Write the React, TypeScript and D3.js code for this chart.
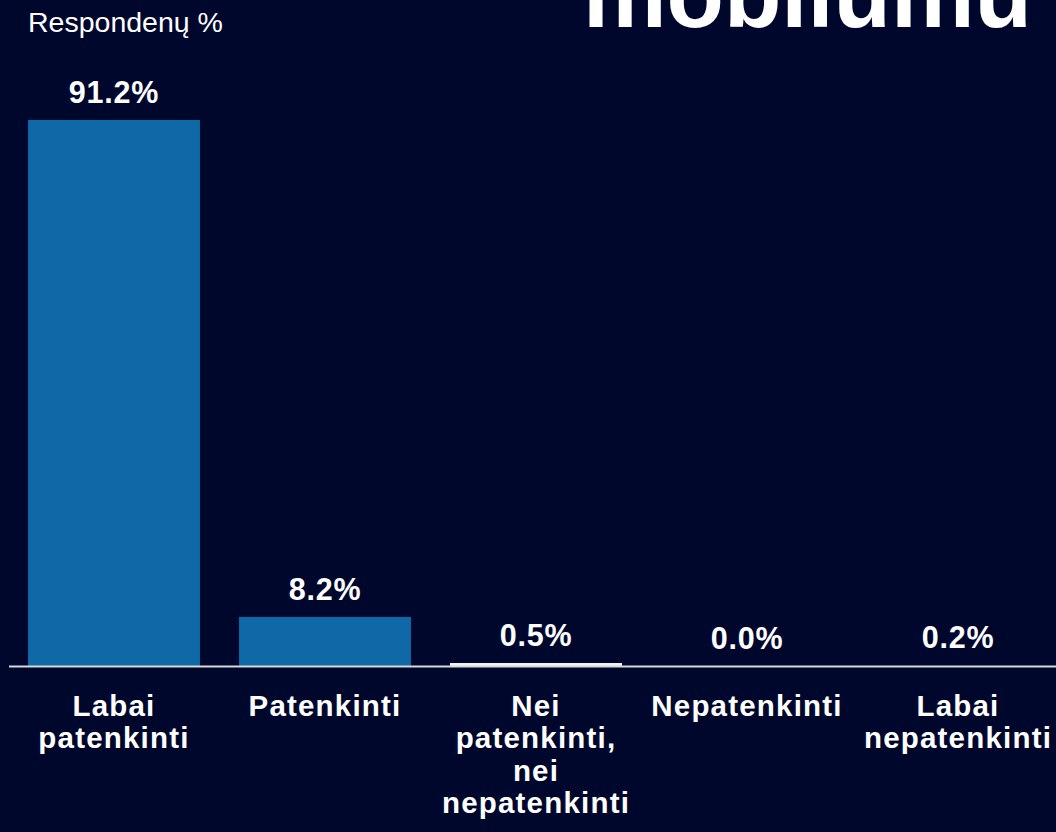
import React, { useEffect } from 'react';
import * as d3 from 'd3';

const categories = [
  ['Labai', 'patenkinti'],
  ['Patenkinti'],
  ['Nei', 'patenkinti,', 'nei', 'nepatenkinti'],
  ['Nepatenkinti'],
  ['Labai', 'nepatenkinti'],
];
const values = [91.2, 8.2, 0.5, 0.0, 0.2];
// the last two are not visible in the source picture
const barColors = ['#0e69a6', '#0e69a6', '#f2f2f2', '#00072d', '#00072d'];
const yLabel = 'Respondenų %';
const title = 'mobilumu';

const W = 1056;
const H = 832;
const BG = '#00072d';

export default function App() {
  useEffect(() => {
    document.body.style.margin = '0';
    document.body.style.background = BG;
  }, []);

  const base = 666;
  const x = d3.scaleBand<number>()
    .domain(d3.range(values.length))
    .range([8.5, 1063.5])
    .paddingInner(0.185)
    .paddingOuter(0.0925);

  const y = d3.scaleLinear()
    .domain([0, 91.2])
    .range([base, 120]);

  const font = 'Liberation Sans, Arial, sans-serif';
  const cx = (i: number) => (x(i) ?? 0) + x.bandwidth() / 2;

  return (
    <svg width={W} height={H} style={{ position: 'fixed', left: 0, top: 0, background: BG }}>
      <rect width={W} height={H} fill={BG} />
      <text x={1032} y={27} textAnchor="end" fontFamily={font} fontWeight="bold"
        fontSize={94} fill="#fff">{title}</text>
      <text x={28} y={32} fontFamily={font} fontSize={28.5} fill="#fff">{yLabel}</text>

      {values.map((v, i) => (
        <g key={i}>
          <rect x={x(i)} y={y(v)} width={x.bandwidth()} height={base - y(v)} fill={barColors[i]} />
          <text x={cx(i)} y={y(v) - 17} textAnchor="middle" letterSpacing={0.8}
            fontFamily={font} fontWeight="bold" fontSize={30.5} fill="#fff">
            {v.toFixed(1) + '%'}
          </text>
          <text x={cx(i)} y={716} textAnchor="middle" letterSpacing={1.2}
            fontFamily={font} fontWeight="bold" fontSize={29.5} fill="#fff">
            {categories[i].map((line, j) => (
              <tspan key={j} x={cx(i)} dy={j === 0 ? 0 : 32.3}>{line}</tspan>
            ))}
          </text>
        </g>
      ))}

      <line x1={9} x2={W} y1={base + 0.5} y2={base + 0.5} stroke="#d9d9d9" strokeWidth={2} />
    </svg>
  );
}
